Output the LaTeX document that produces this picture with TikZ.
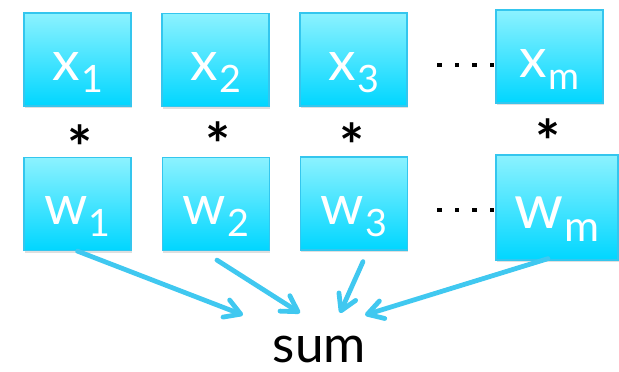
\documentclass[tikz,border=0pt]{standalone}
\usepackage{fontspec}
\setmainfont{Lato}
\definecolor{celltop}{RGB}{140,242,255}
\definecolor{cellbot}{RGB}{0,214,255}
\definecolor{celledge}{RGB}{52,198,238}
\definecolor{flowblue}{RGB}{64,200,240}
\usetikzlibrary{arrows.meta, shadows, calc}

\newcommand{\sublbl}[2]{#1\kern1pt\raisebox{-8.5pt}{\fontsize{26.8}{27}\selectfont #2}}

\begin{document}
\begin{tikzpicture}[x=0.025cm, y=-0.025cm,
  cell/.style={draw=celledge, line width=0.9pt, top color=celltop, bottom color=cellbot,
    minimum width=2.675cm, minimum height=2.325cm, inner sep=0pt, text=white,
    font=\fontsize{39.3}{40}\selectfont, text height=39pt, text depth=9.2pt,
    drop shadow={shadow xshift=0.6pt, shadow yshift=-1.6pt, opacity=0.25}},
  times/.style={font=\fontsize{42}{42}\selectfont\bfseries, anchor=base, inner sep=0pt},
  flow/.style={-{Straight Barb[length=11pt, width=13pt, round]}, line width=3.4pt, flowblue, line cap=round}
]
\useasboundingbox (0,0) rectangle (619,372);

% === Entradas x ===
\node[cell] (x1) at (77.5,59.5) {\sublbl{x}{1}};
\node[cell] (x2) at (215.5,60) {\sublbl{x}{2}};
\node[cell] (x3) at (353.5,59.5) {\sublbl{x}{3}};
\node[cell] (xm) at (549.5,56.5) {\sublbl{x}{m}};

% === Pesos w ===
\node[cell] (w1) at (77.5,204) {\sublbl{w}{1}};
\node[cell] (w2) at (216,204) {\sublbl{w}{2}};
\node[cell] (w3) at (354,203.5) {\sublbl{w}{3}};
\node[cell, minimum width=3.05cm, minimum height=2.625cm] (wm) at (557,207.5) {\scalebox{1.13}{\sublbl{w}{m}}};

% Productos
\node[times] (t1) at (80,170) {*};
\node[times] (t2) at (218,167) {*};
\node[times] (t3) at (352,168) {*};
\node[times] (tm) at (548,164) {*};

% Puntos suspensivos
\foreach \d in {0,...,3} {
  \fill (437+17.5*\d,63) rectangle ++(4.5,4.5);
  \fill (437+17.5*\d,208) rectangle ++(4.5,4.5);
}

% === Suma ===
\node[font=\fontsize{36.5}{37}\selectfont, anchor=base, inner sep=1pt] (sum) at (319.5,363) {sum};
\coordinate (in1) at (243,315);
\coordinate (in2) at (300,313);
\coordinate (in3) at (340,313);
\coordinate (in4) at (365,315);

\draw[flow] (w1.south) -- (in1);
\draw[flow] ([shift={(1,9)}]w2.south) -- (in2);
\draw[flow] ([shift={(9,11)}]w3.south) -- (in3);
\draw[flow] ([shift={(-9,-2)}]wm.south) -- (in4);

\end{tikzpicture}
\end{document}
